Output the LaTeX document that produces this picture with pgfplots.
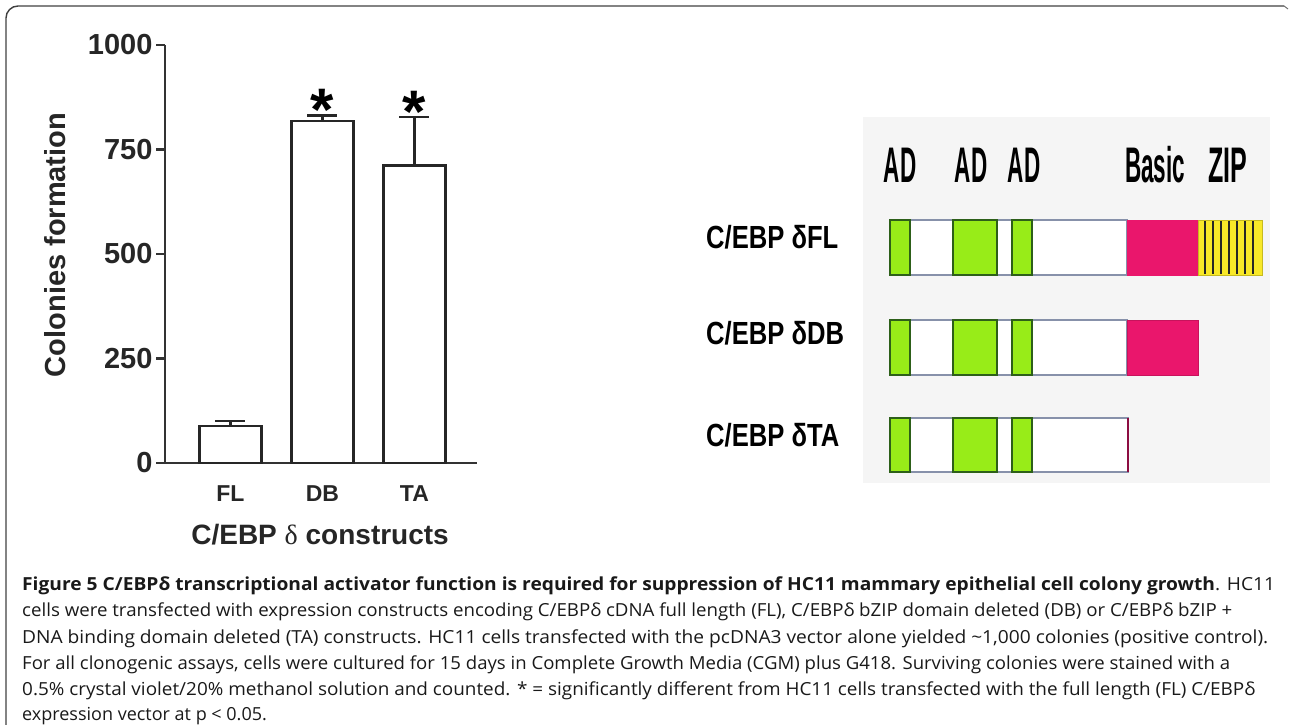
\documentclass[border=0pt]{standalone}
\usepackage{fontspec}
\setmainfont{Liberation Sans}
\newfontfamily\capfont{Open Sans}
\newfontfamily\serfont{Liberation Serif}
\usepackage{graphicx}
\usepackage{pgfplots}
\pgfplotsset{compat=1.18}
\definecolor{adgreen}{RGB}{152,236,24}
\definecolor{adborder}{RGB}{45,95,25}
\definecolor{basicred}{RGB}{234,22,108}
\definecolor{zipyel}{RGB}{248,232,40}
\definecolor{outl}{RGB}{135,145,170}
\definecolor{panel}{RGB}{245,245,245}
\newcommand{\seg}[5]{\addplot[#5] coordinates {(#1,#3) (#2,#3) (#2,#4) (#1,#4)} -- cycle;}
\begin{document}
\begin{tikzpicture}
\begin{scope}[x=1pt,y=-1pt]
  \path[use as bounding box] (0,0) rectangle (1290,725);
  \fill[panel] (863,117) rectangle (1270,483);
  \draw[black!75, line width=1.4pt, rounded corners=12pt] (6,725) -- (6,6) -- (1284,6);
  \draw[black!55, line width=1pt] (1284,6) -- (1288,9);
\end{scope}

% ---------------- bar chart ----------------
\begin{axis}[
  at={(165pt,-463pt)}, anchor=south west,
  scale only axis, width=312pt, height=418pt,
  xmin=-0.71, xmax=2.68, ymin=0, ymax=1000,
  axis lines=left,
  axis line style={line width=2.5pt, black!80, -},
  ytick={0,250,500,750,1000},
  xtick={0,1,2}, xticklabels={FL,DB,TA},
  tick align=outside, major tick length=9pt,
  ytick style={line width=2.5pt, black!80},
  xtick style={draw=none},
  /pgf/number format/assume math mode=true,
  /pgf/number format/set thousands separator={},
  yticklabel style={font=\fontsize{29}{29}\selectfont\bfseries, text=black!85},
  xticklabel style={font=\fontsize{23}{23}\selectfont\bfseries, text=black!85, anchor=center, yshift=-22pt},
  ylabel={Colonies formation},
  ylabel style={font=\fontsize{29}{29}\selectfont\bfseries, text=black!85, at={(axis description cs:-0.3526,0.5215)}, anchor=center},
  xlabel={C/EBP {\serfont\mdseries δ} constructs},
  xlabel style={font=\fontsize{28}{28}\selectfont\bfseries, text=black!85, at={(axis description cs:0.497,-0.172)}, anchor=center},
  ybar, bar width=62pt,
  clip=false,
]
\addplot[fill=white, draw=black!85, line width=2.5pt,
  error bars/.cd, y dir=plus, y explicit,
  error bar style={line width=2.5pt, black!85},
  error mark options={rotate=90, line width=2.5pt, mark size=15pt, black!85}]
  coordinates {(0,88) +- (0,13) (1,818) +- (0,13) (2,712) +- (0,116)};
\node[font=\fontsize{60}{60}\selectfont\bfseries, anchor=base] at (axis cs:1,796) {*};
\node[font=\fontsize{60}{60}\selectfont\bfseries, anchor=base] at (axis cs:2,791) {*};
\end{axis}

% ---------------- domain diagram ----------------
\begin{axis}[
  at={(0pt,-725pt)}, anchor=south west,
  scale only axis, width=1290pt, height=725pt,
  xmin=0, xmax=1290, ymin=0, ymax=725, y dir=reverse,
  hide axis, clip=false,
]
% row bodies
\seg{890}{1127}{220}{275}{draw=outl, line width=1.5pt, fill=white}
\seg{890}{1127}{320}{375}{draw=outl, line width=1.5pt, fill=white}
\seg{890}{1128}{418}{472}{draw=outl, line width=1.5pt, fill=white}
% basic
\seg{1127}{1198}{220}{275}{draw=basicred, line width=1pt, fill=basicred}
\seg{1127}{1198}{320}{375}{draw=basicred!85!black, line width=1pt, fill=basicred}
\addplot[draw=basicred!60!black, line width=1.5pt] coordinates {(1128,418) (1128,472)};
% zip
\seg{1198}{1262}{220}{275}{draw=zipyel!80!black, line width=1pt, fill=zipyel}
\addplot[black!85, line width=2pt] coordinates {(1205,221) (1205,274)};
\addplot[black!85, line width=2pt] coordinates {(1213,221) (1213,274)};
\addplot[black!85, line width=2pt] coordinates {(1221,221) (1221,274)};
\addplot[black!85, line width=2pt] coordinates {(1229,221) (1229,274)};
\addplot[black!85, line width=2pt] coordinates {(1237,221) (1237,274)};
\addplot[black!85, line width=2pt] coordinates {(1245,221) (1245,274)};
\addplot[black!85, line width=2pt] coordinates {(1253,221) (1253,274)};
% AD boxes
\seg{890}{910}{220}{275}{draw=adborder, line width=2.2pt, fill=adgreen}
\seg{953}{997}{220}{275}{draw=adborder, line width=2.2pt, fill=adgreen}
\seg{1012}{1032}{220}{275}{draw=adborder, line width=2.2pt, fill=adgreen}
\seg{890}{910}{320}{375}{draw=adborder, line width=2.2pt, fill=adgreen}
\seg{953}{997}{320}{375}{draw=adborder, line width=2.2pt, fill=adgreen}
\seg{1012}{1032}{320}{375}{draw=adborder, line width=2.2pt, fill=adgreen}
\seg{890}{910}{418}{472}{draw=adborder, line width=2.2pt, fill=adgreen}
\seg{953}{997}{418}{472}{draw=adborder, line width=2.2pt, fill=adgreen}
\seg{1012}{1032}{418}{472}{draw=adborder, line width=2.2pt, fill=adgreen}
% header labels
\node[inner sep=0pt] at (axis cs:900,165) {\scalebox{0.45}[1]{\fontsize{50}{50}\selectfont\bfseries AD}};
\node[inner sep=0pt] at (axis cs:971,165) {\scalebox{0.45}[1]{\fontsize{50}{50}\selectfont\bfseries AD}};
\node[inner sep=0pt] at (axis cs:1024,165) {\scalebox{0.45}[1]{\fontsize{50}{50}\selectfont\bfseries AD}};
\node[inner sep=0pt] at (axis cs:1155,165) {\scalebox{0.45}[1]{\fontsize{50}{50}\selectfont\bfseries Basic}};
\node[inner sep=0pt] at (axis cs:1228,165) {\scalebox{0.5}[1]{\fontsize{50}{50}\selectfont\bfseries ZIP}};
% row labels
\node[inner sep=0pt, anchor=west] at (axis cs:706,237) {\scalebox{0.8}[1]{\fontsize{32}{32}\selectfont\bfseries C/EBP δFL}};
\node[inner sep=0pt, anchor=west] at (axis cs:706,333) {\scalebox{0.8}[1]{\fontsize{32}{32}\selectfont\bfseries C/EBP δDB}};
\node[inner sep=0pt, anchor=west] at (axis cs:706,435) {\scalebox{0.8}[1]{\fontsize{32}{32}\selectfont\bfseries C/EBP δTA}};
\end{axis}

% ---------------- caption ----------------
\begin{scope}[x=1pt,y=-1pt, every node/.style={anchor=base west, inner sep=0pt, text=black!90}]
\node at (22,590) {\resizebox{1253pt}{\height}{\capfont\fontsize{18}{18}\selectfont{\bfseries Figure 5 C/EBPδ transcriptional activator function is required for suppression of HC11 mammary epithelial cell colony growth}. HC11}};
\node at (22,616) {\resizebox{1210pt}{\height}{\capfont\fontsize{18}{18}\selectfont cells were transfected with expression constructs encoding C/EBPδ cDNA full length (FL), C/EBPδ bZIP domain deleted (DB) or C/EBPδ bZIP +}};
\node at (22,643) {\resizebox{1246pt}{\height}{\capfont\fontsize{18}{18}\selectfont DNA binding domain deleted (TA) constructs. HC11 cells transfected with the pcDNA3 vector alone yielded \textasciitilde 1,000 colonies (positive control).}};
\node at (22,669) {\resizebox{1208pt}{\height}{\capfont\fontsize{18}{18}\selectfont For all clonogenic assays, cells were cultured for 15 days in Complete Growth Media (CGM) plus G418. Surviving colonies were stained with a}};
\node at (22,695) {\resizebox{1233pt}{\height}{\capfont\fontsize{18}{18}\selectfont 0.5\% crystal violet/20\% methanol solution and counted. * = significantly different from HC11 cells transfected with the full length (FL) C/EBPδ}};
\node at (22,720) {\capfont\fontsize{18}{18}\selectfont expression vector at p < 0.05.};
\end{scope}
\end{tikzpicture}
\end{document}
